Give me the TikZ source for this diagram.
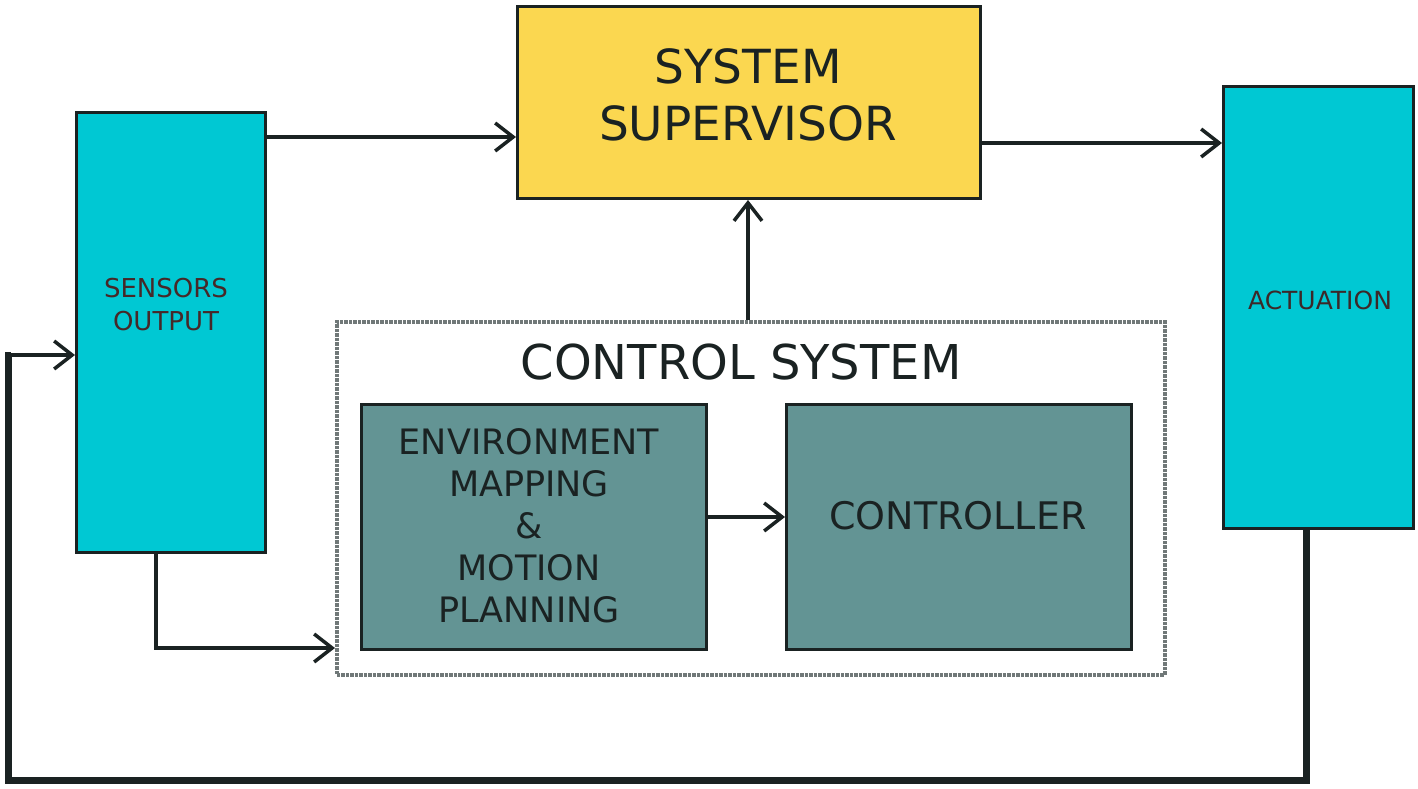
\documentclass[tikz,border=0pt]{standalone}
\usepackage{fontspec}
\setmainfont{DejaVu Sans}
\usetikzlibrary{arrows.meta,calc}
\definecolor{cyanbox}{HTML}{00C8D3}
\definecolor{supfill}{HTML}{FBD750}
\definecolor{tealbox}{HTML}{639494}
\definecolor{ink}{HTML}{1A2222}
\definecolor{dotgray}{HTML}{707878}
\begin{document}
\begin{tikzpicture}[x=1pt,y=-1pt,
  blk/.style={draw=ink,line width=3pt,rectangle,inner sep=0pt,anchor=north west,align=center,text=ink},
  arr/.style={draw=ink,line width=4.5pt,-{Straight Barb[length=18pt,width=28pt,line width=3.5pt]}},
  fb/.style={draw=ink,line width=7pt},
]
\useasboundingbox (0,0) rectangle (1418,789);
\fill[white] (0,0) rectangle (1418,789);
% boxes
\node[blk,fill=cyanbox,minimum width=189pt,minimum height=440pt] (sens) at (75,111) {};
\node[font=\fontsize{26}{33}\selectfont,text={rgb,255:red,70;green,40;blue,40},align=center] (senst) at (166,305) {SENSORS\\OUTPUT};
\node[blk,fill=supfill,minimum width=463pt,minimum height=192pt] (sup) at (516,5) {};
\node[font=\fontsize{47}{57}\selectfont,text=ink,align=center] (supt) at (748,95) {SYSTEM\\SUPERVISOR};
\node[blk,fill=cyanbox,minimum width=190pt,minimum height=442pt] (act) at (1222,85) {};
\node[font=\fontsize{25}{28}\selectfont,text={rgb,255:red,60;green,40;blue,40}] (actt) at (1320,300) {ACTUATION};
\node[draw=dotgray,densely dotted,line width=3.5pt,rectangle,anchor=north west,minimum width=828pt,minimum height=353pt,inner sep=0pt] (ctrl) at (335,320) {};
\node[font=\fontsize{48}{54}\selectfont,text=ink] (ctrlt) at (741,362) {CONTROL SYSTEM};
\node[blk,fill=tealbox,minimum width=345pt,minimum height=245pt] (env) at (360,403) {};
\node[font=\fontsize{35}{42}\selectfont,text=ink,align=center] (envt) at (529,526) {ENVIRONMENT\\MAPPING\\\&\\MOTION\\PLANNING};
\node[blk,fill=tealbox,minimum width=345pt,minimum height=245pt] (con) at (785,403) {};
\node[font=\fontsize{38}{42}\selectfont,text=ink] (cont) at (958,516) {CONTROLLER};
% connectors
\coordinate (s1) at (264,137);
\draw[arr] (s1) -- (sup.west |- s1);
\coordinate (a1) at (979,143);
\draw[arr] (a1) -- (act.west |- a1);
\draw[arr] (ctrl.north -| 748,0) -- (sup.south -| 748,0);
\coordinate (e1) at (705,517);
\draw[arr] (e1) -- (con.west |- e1);
\coordinate (sb) at (156,551);
\coordinate (sc) at (156,648);
\draw[arr,line width=4pt] (sb) -- (sc) -- (ctrl.west |- sc);
\coordinate (ab) at (1306,527);
\coordinate (ac) at (1306,780);
\coordinate (ad) at (8,780);
\coordinate (ae) at (8,355);
\draw[fb] (ab) -- (ac) -- (ad) -- (ae) -- ($(ae)+(3,0)$);
\draw[arr] ($(ae)+(-1,0)$) -- (sens.west |- ae);
\end{tikzpicture}
\end{document}
